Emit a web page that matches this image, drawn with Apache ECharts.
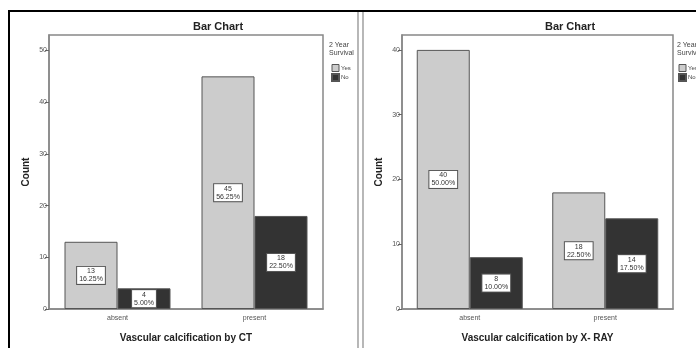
<!DOCTYPE html>
<html><head><meta charset="utf-8">
<script src="https://cdn.jsdelivr.net/npm/echarts@6/dist/echarts.min.js"></script>
<style>html,body{margin:0;padding:0;background:#fff}#c{width:696px;height:348px}</style>
</head><body><div id="c"></div>
<script>
const categories = ['absent', 'present'];
const ctYes = [13, 45];
const ctNo = [4, 18];
const xrayYes = [40, 18];
const xrayNo = [8, 14];
const ctTicks = [0, 10, 20, 30, 40, 50];
const xrayTicks = [0, 10, 20, 30, 40];
const total = 80;

const chart = echarts.init(document.getElementById('c'), null, {renderer: 'canvas'});
const font = 'Liberation Sans, Arial, sans-serif';

function lbl() {
  return {
    show: true, position: 'inside',
    formatter: p => p.value + '\n' + (p.value / total * 100).toFixed(2) + '%',
    backgroundColor: '#fff', borderColor: '#555', borderWidth: 1,
    padding: [1, 2, 0, 2], fontSize: 7, lineHeight: 8, color: '#333', fontFamily: font
  };
}
function yAxis(idx, max, ticks) {
  return {
    type: 'value', gridIndex: idx, min: 0, max: max,
    name: 'Count', nameLocation: 'middle', nameGap: 18,
    nameTextStyle: {fontSize: 10, fontWeight: 'bold', color: '#222', fontFamily: font},
    splitLine: {show: false},
    axisLine: {show: true, lineStyle: {color: '#888', width: 1.5}},
    axisTick: {show: true, length: 4, lineStyle: {color: '#666'}, customValues: ticks},
    axisLabel: {fontSize: 7, color: '#555', margin: 2, fontFamily: font, customValues: ticks}
  };
}
function xAxis(idx, name) {
  return {
    type: 'category', gridIndex: idx, data: categories,
    name: name, nameLocation: 'middle', nameGap: 24,
    nameTextStyle: {fontSize: 10, fontWeight: 'bold', color: '#222', fontFamily: font},
    axisLine: {show: true, lineStyle: {color: '#888', width: 1.5}},
    axisTick: {show: false},
    axisLabel: {fontSize: 7, color: '#555', margin: 6, fontFamily: font}
  };
}
function bar(name, data, idx, color) {
  return {
    type: 'bar', name: name, data: data, xAxisIndex: idx, yAxisIndex: idx,
    barWidth: 53, barGap: '0%',
    itemStyle: {color: color, borderColor: '#555', borderWidth: 1},
    label: lbl()
  };
}
function legend(left) {
  return {
    orient: 'vertical', left: left, top: 64, padding: 0, icon: 'rect',
    itemWidth: 7, itemHeight: 7, itemGap: 1,
    data: [{name: 'Yes', itemStyle: {borderColor: '#555', borderWidth: 1}}, {name: 'No'}],
    textStyle: {fontSize: 6, color: '#444', fontFamily: font, padding: [0, 0, 0, -3]}
  };
}

chart.setOption({
  animation: false,
  title: [
    {text: 'Bar Chart', left: 218, top: 21, padding: 0, textAlign: 'center', textStyle: {fontSize: 11, fontWeight: 'bold', color: '#222', fontFamily: font}},
    {text: 'Bar Chart', left: 570, top: 21, padding: 0, textAlign: 'center', textStyle: {fontSize: 11, fontWeight: 'bold', color: '#222', fontFamily: font}}
  ],
  legend: [legend(331), legend(678)],
  grid: [
    {left: 49, top: 35, width: 274, height: 278, show: true, borderColor: '#888', borderWidth: 1.5, backgroundColor: '#fff'},
    {left: 402, top: 35, width: 271, height: 278, show: true, borderColor: '#888', borderWidth: 1.5, backgroundColor: '#fff'}
  ],
  xAxis: [xAxis(0, 'Vascular calcification by CT'), xAxis(1, 'Vascular calcification by X- RAY')],
  yAxis: [yAxis(0, 53, ctTicks), yAxis(1, 42.3, xrayTicks)],
  series: [
    bar('Yes', ctYes, 0, '#cccccc'),
    bar('No', ctNo, 0, '#333333'),
    bar('Yes', xrayYes, 1, '#cccccc'),
    bar('No', xrayNo, 1, '#333333')
  ],
  graphic: [
    {type: 'line', shape: {x1: 8, y1: 11, x2: 696, y2: 11}, style: {stroke: '#000', lineWidth: 2}},
    {type: 'line', shape: {x1: 9, y1: 10, x2: 9, y2: 348}, style: {stroke: '#000', lineWidth: 2}},
    {type: 'line', shape: {x1: 358, y1: 12, x2: 358, y2: 348}, style: {stroke: '#888', lineWidth: 1.2}},
    {type: 'line', shape: {x1: 363, y1: 12, x2: 363, y2: 348}, style: {stroke: '#888', lineWidth: 1.2}},
    {type: 'text', left: 329, top: 41, style: {text: '2 Year\nSurvival', fontSize: 7, lineHeight: 8, fill: '#444', fontFamily: font}},
    {type: 'text', left: 677, top: 41, style: {text: '2 Year\nSurvival', fontSize: 7, lineHeight: 8, fill: '#444', fontFamily: font}}
  ]
});
</script></body></html>
